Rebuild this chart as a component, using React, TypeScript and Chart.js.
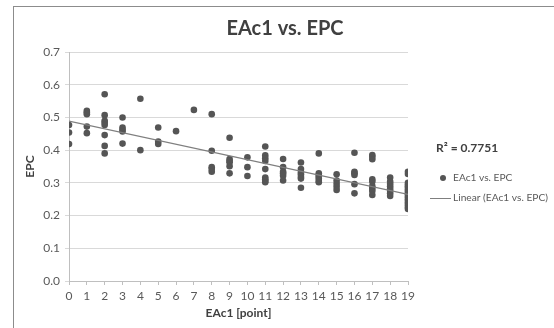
import React, { useEffect, useRef } from "react";
import { Chart, registerables } from "chart.js";

Chart.register(...registerables);

const eac1Values = [0, 1, 2, 3, 4, 5, 6, 7, 8, 9, 10, 11, 12, 13, 14, 15, 16, 17, 18, 19];
const epcGroups: number[][] = [
  [0.477, 0.454, 0.419],
  [0.52, 0.515, 0.51, 0.472, 0.452],
  [0.571, 0.507, 0.49, 0.484, 0.477, 0.446, 0.413, 0.39],
  [0.5, 0.469, 0.462, 0.457, 0.42],
  [0.557, 0.4],
  [0.469, 0.426, 0.419],
  [0.458],
  [0.523],
  [0.51, 0.398, 0.348, 0.342, 0.334],
  [0.438, 0.373, 0.367, 0.363, 0.351, 0.329],
  [0.378, 0.348, 0.321],
  [0.411, 0.384, 0.375, 0.367, 0.342, 0.316, 0.311, 0.306, 0.302],
  [0.373, 0.348, 0.334, 0.329, 0.322, 0.307],
  [0.362, 0.342, 0.332, 0.326, 0.319, 0.313, 0.285],
  [0.39, 0.329, 0.324, 0.319, 0.313, 0.306, 0.302],
  [0.326, 0.307, 0.297, 0.288, 0.278],
  [0.392, 0.334, 0.329, 0.324, 0.296, 0.268],
  [0.385, 0.38, 0.372, 0.311, 0.304, 0.29, 0.283, 0.275, 0.263],
  [0.316, 0.304, 0.297, 0.29, 0.282, 0.275, 0.268, 0.26],
  [0.334, 0.327, 0.3, 0.295, 0.29, 0.285, 0.28, 0.275, 0.27, 0.265, 0.26, 0.255, 0.25, 0.245, 0.24, 0.235, 0.23, 0.225, 0.22],
];
const trendX = [0, 19];
const trendY = [0.489, 0.265];

const titleText = "EAc1 vs. EPC";
const xTitle = "EAc1 [point]";
const yTitle = "EPC";
const r2Label = "R² = 0.7751";
const seriesLabel = "EAc1 vs. EPC";
const trendLabel = "Linear (EAc1 vs. EPC)";

const FONT = 'Lato, "Open Sans", sans-serif';
const TEXT = "#595959";
const POINT = "#555555";
const LINE = "#7f7f7f";

const overlayPlugin = {
  id: "overlay",
  afterDraw(chart: any) {
    const { ctx, chartArea } = chart;
    ctx.save();
    // title
    ctx.fillStyle = "#404040";
    ctx.font = `bold 20px ${FONT}`;
    ctx.textAlign = "center";
    ctx.textBaseline = "middle";
    ctx.fillText(titleText, chart.width / 2 + 8, 29);

    const lx = chartArea.right + 28;
    ctx.textAlign = "left";
    ctx.fillStyle = "#404040";
    ctx.font = `bold 12px ${FONT}`;
    ctx.fillText(r2Label, lx, 148);

    ctx.font = `10.2px ${FONT}`;
    ctx.fillStyle = POINT;
    ctx.beginPath();
    ctx.arc(lx + 7, 178, 3, 0, Math.PI * 2);
    ctx.fill();
    ctx.fillStyle = TEXT;
    ctx.fillText(seriesLabel, lx + 17, 178);

    ctx.strokeStyle = LINE;
    ctx.lineWidth = 1;
    ctx.beginPath();
    ctx.moveTo(lx - 6, 198.5);
    ctx.lineTo(lx + 15, 198.5);
    ctx.stroke();
    ctx.fillText(trendLabel, lx + 17, 198);
    ctx.restore();
  },
};

export default function App() {
  const ref = useRef<HTMLCanvasElement>(null);
  useEffect(() => {
    const points: { x: number; y: number }[] = [];
    eac1Values.forEach((x, i) => {
      epcGroups[i].forEach((y) => points.push({ x, y }));
    });
    const trend = trendX.map((x, i) => ({ x, y: trendY[i] }));
    const chart = new Chart(ref.current as HTMLCanvasElement, {
      type: "scatter",
      data: {
        datasets: [
          {
            label: trendLabel,
            data: trend,
            showLine: true,
            borderColor: LINE,
            borderWidth: 1.2,
            pointRadius: 0,
            fill: false,
          } as any,
          {
            label: seriesLabel,
            data: points,
            backgroundColor: POINT,
            borderColor: POINT,
            pointRadius: 3.3,
            pointBorderWidth: 0,
          },
        ],
      },
      plugins: [overlayPlugin],
      options: {
        animation: false,
        responsive: false,
        devicePixelRatio: 1,
        layout: { padding: { top: 52, right: 146, left: 0, bottom: 0 } },
        plugins: { legend: { display: false }, tooltip: { enabled: false }, title: { display: false } },
        scales: {
          x: {
            type: "linear",
            min: 0,
            max: 19,
            afterFit: (s: any) => {
              s.height = 47;
            },
            ticks: { stepSize: 1, color: TEXT, font: { family: FONT, size: 12 }, padding: 4, maxRotation: 0, autoSkip: false },
            grid: { drawOnChartArea: false, drawTicks: true, tickLength: 4, color: "#bfbfbf" },
            border: { color: "#bfbfbf" },
            title: { display: true, text: xTitle, color: "#404040", font: { family: FONT, size: 12, weight: "bold" }, padding: { top: 0, bottom: 8 } },
          },
          y: {
            type: "linear",
            min: 0,
            max: 0.7,
            afterFit: (s: any) => {
              s.width = 69;
            },
            ticks: { stepSize: 0.1, color: TEXT, font: { family: FONT, size: 12 }, padding: 5, callback: (v: any) => Number(v).toFixed(1) },
            grid: { color: "#d9d9d9", tickLength: 4, drawTicks: true },
            border: { color: "#bfbfbf" },
            title: { display: true, text: yTitle, color: "#404040", font: { family: FONT, size: 12, weight: "bold" }, padding: { top: 23, bottom: 0 } },
          },
        },
      },
    });
    return () => chart.destroy();
  }, []);
  return (
    <div style={{ position: "fixed", left: 0, top: 0, width: 554, height: 328, background: "#fff", overflow: "hidden" }}>
      <canvas ref={ref} width={554} height={328} style={{ position: "absolute", left: 0, top: 0, width: 554, height: 328 }} />
      <div style={{ position: "absolute", left: 13, top: 6, width: 700, height: 500, border: "1px solid #8c8c8c", pointerEvents: "none" }} />
    </div>
  );
}
